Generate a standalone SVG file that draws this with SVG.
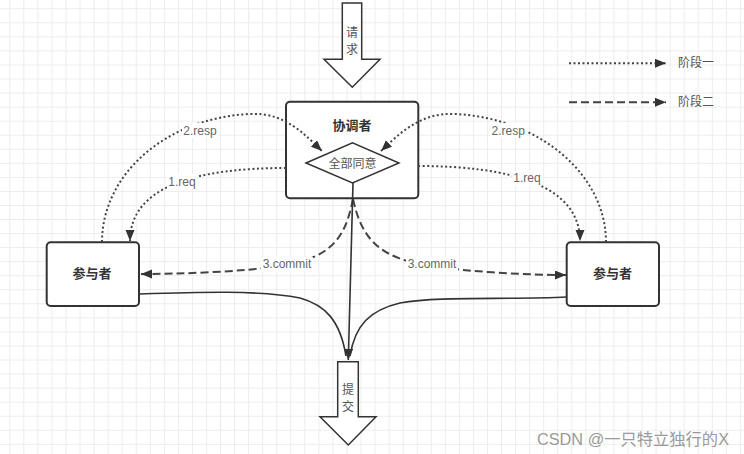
<svg xmlns="http://www.w3.org/2000/svg" width="744" height="454" viewBox="0 0 744 454">
<style>
.t{font-family:"Liberation Sans","Noto Sans CJK SC",sans-serif;}
.b{font-weight:bold;font-size:13px;fill:#333;text-anchor:middle;dominant-baseline:central;}
.g{font-size:12px;fill:#555;text-anchor:middle;dominant-baseline:central;}
.lbl{font-size:12px;fill:#666;text-anchor:middle;dominant-baseline:central;}
.box{fill:#fff;stroke:#333;stroke-width:2;}
.big{fill:#fff;stroke:#333;stroke-width:1.5;stroke-linejoin:miter;}
.dot{fill:none;stroke:#444;stroke-width:2;stroke-dasharray:2 2.5;}
.dash{fill:none;stroke:#444;stroke-width:2;stroke-dasharray:8 4;}
.sol{fill:none;stroke:#333;stroke-width:1.6;}
.bg{fill:#fff;}
</style>
<defs>
<pattern id="grid" patternUnits="userSpaceOnUse" x="9.3" y="8.3" width="14.05" height="14.05">
<path d="M0,0.5 H14.05 M0.5,0 V14.05" fill="none" stroke="#ececec" stroke-width="1"/>
</pattern>
<marker id="ah" markerUnits="userSpaceOnUse" markerWidth="12" markerHeight="10" refX="11" refY="4.5" orient="auto">
<path d="M0,0 L11,4.5 L0,9 z" fill="#333"/>
</marker>
</defs>
<rect width="744" height="454" fill="#fff"/>
<rect width="744" height="454" fill="url(#grid)"/>

<g id="request-arrow">
<polygon class="big" points="342.3,3 361.7,3 361.7,59.3 380,59.3 352.3,87.3 324,59.3 342.3,59.3"/>
<text class="t g" x="352" y="33">请</text>
<text class="t g" x="352" y="50">求</text>
</g>

<g id="coordinator">
<rect class="box" x="286" y="101.7" width="132.3" height="96.6" rx="4"/>
<text class="t b" x="352" y="125.5">协调者</text>
</g>

<g id="agree">
<polygon points="306,163 352.5,142.7 399,163 352.5,183" fill="#fff" stroke="#333" stroke-width="1.5"/>
<text class="t g" x="352.5" y="163.5">全部同意</text>
</g>

<g id="participant-left">
<rect class="box" x="46.7" y="242.3" width="92.3" height="63.7" rx="4"/>
<text class="t b" x="92" y="273.5">参与者</text>
</g>

<g id="participant-right">
<rect class="box" x="566.7" y="242.3" width="92.3" height="63.7" rx="4"/>
<text class="t b" x="612.5" y="273.5">参与者</text>
</g>

<g id="commit-arrow">
<polygon class="big" points="337.7,361.7 358.3,361.7 358.3,416.7 376,416.7 348.3,445 320,416.7 337.7,416.7"/>
<text class="t g" x="348" y="390">提</text>
<text class="t g" x="348" y="407">交</text>
</g>

<g id="connectors">
<path class="dot" d="M102,242 C102,175 165,118 250,114 C285,112 305,135 322,151" marker-end="url(#ah)"/>
<path class="dot" d="M286,168 C200,168 130,185 130,241" marker-end="url(#ah)"/>
<path class="dot" d="M606,242 C606,175 540,118 455,114 C420,112 398,135 381,151" marker-end="url(#ah)"/>
<path class="dot" d="M418,166 C510,166 580,185 580,241" marker-end="url(#ah)"/>
<path class="dash" d="M353,199 C345,240 330,258 280,266 C240,272 180,274 141,274" marker-end="url(#ah)"/>
<path class="dash" d="M353,199 C362,240 380,258 430,266 C470,272 530,275 566,275" marker-end="url(#ah)"/>
<path class="sol" d="M353,183 L348.3,360" marker-end="url(#ah)"/>
<path class="sol" d="M139,294 C200,292 260,290 300,298 C325,305 340,320 346,356"/>
<path class="sol" d="M567,297 C500,300 440,296 400,303 C370,310 355,325 350,356"/>

<rect class="bg" x="182" y="123" width="37" height="15"/>
<text class="t lbl" x="200" y="130.7">2.resp</text>
<rect class="bg" x="167" y="174" width="30" height="15"/>
<text class="t lbl" x="182" y="181.5">1.req</text>
<rect class="bg" x="490" y="123" width="37" height="15"/>
<text class="t lbl" x="508.3" y="130.7">2.resp</text>
<rect class="bg" x="512" y="171" width="30" height="15"/>
<text class="t lbl" x="527" y="178.3">1.req</text>
<rect class="bg" x="261" y="257" width="52" height="15"/>
<text class="t lbl" x="287" y="264">3.commit</text>
<rect class="bg" x="406" y="257" width="52" height="15"/>
<text class="t lbl" x="432" y="264">3.commit</text>
</g>

<g id="legend">
<path class="dot" d="M569,63.3 H666" marker-end="url(#ah)"/>
<text class="t" x="678" y="63.3" font-size="12" fill="#555" dominant-baseline="central">阶段一</text>
<path class="dash" d="M569,102.3 H666" marker-end="url(#ah)"/>
<text class="t" x="678" y="102.3" font-size="12" fill="#555" dominant-baseline="central">阶段二</text>
</g>

<text class="t" x="729" y="438.5" font-size="16.3" fill="#9a9a9a" text-anchor="end" dominant-baseline="central">CSDN @一只特立独行的X</text>
</svg>
